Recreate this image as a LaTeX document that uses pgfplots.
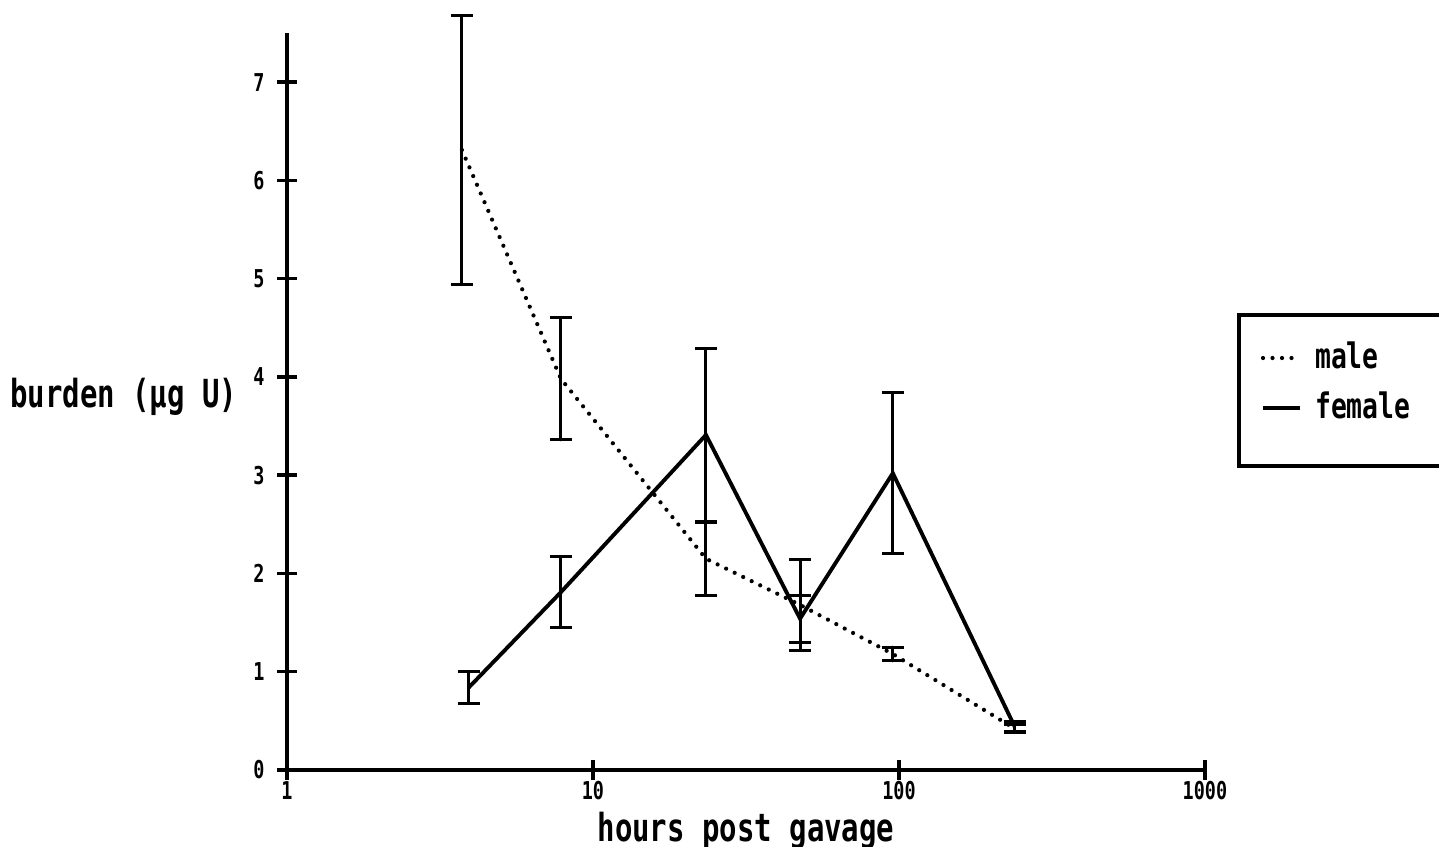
\documentclass[border=0pt]{standalone}
\usepackage{fontspec}
\setmainfont[FakeStretch=0.75]{DejaVu Sans Mono}
\usepackage{pgfplots}
\pgfplotsset{compat=1.18}
\begin{document}
\begin{tikzpicture}
\useasboundingbox (-28.7mm,-7.7mm) rectangle (115.2mm,77mm);
\begin{axis}[
  at={(0,0)}, anchor=south west,
  scale only axis, width=91.8mm, height=73.7mm,
  xmode=log, xmin=1, xmax=1000, ymin=0, ymax=7.5,
  axis lines=left, axis line style={-, line width=1.3pt},
  xtick={1,10,100,1000}, xticklabels={1,10,100,1000},
  ytick={0,1,2,3,4,5,6,7},
  xminorticks=false,
  tick align=center, major tick length=2mm,
  tick style={line width=1pt, black},
  ticklabel style={font=\bfseries\fontsize{7}{8}\selectfont},
  xticklabel style={yshift=1.1mm},
  /pgf/number format/assume math mode=true,
  clip=false,
  xlabel={hours post gavage},
  xlabel style={font=\bfseries\fontsize{11}{13}\selectfont, at={(axis description cs:0.5,0)}, anchor=base, yshift=-7.2mm},
  ylabel={burden\ (µg U)},
  ylabel style={font=\bfseries\fontsize{11}{13}\selectfont, rotate=-90, inner sep=0pt, at={(axis description cs:0,0.506)}, anchor=east, xshift=-4.9mm},
  legend style={at={(axis description cs:1.0349,0.620)}, anchor=north west,
    draw=black, line width=1.1pt, inner xsep=2.2mm, inner ysep=2mm, row sep=0.4mm,
    font=\bfseries\fontsize{10}{12}\selectfont},
  legend cell align=left,
  legend image code/.code={\draw[#1] (0mm,0mm) -- (3.7mm,0mm);},
]
\addplot[black, line width=1.2pt, line cap=round, dash pattern=on 0pt off 2.7pt,
  error bars/.cd, y dir=both, y explicit,
  error bar style={line width=0.85pt, solid},
  error mark=|, error mark options={line width=0.85pt, mark size=1.1mm, solid}]
  coordinates {
  (3.73,6.31) +- (0,1.37)
  (7.86,3.98) +- (0,0.62)
  (23.4,2.15) +- (0,0.37)
  (47.5,1.68) +- (0,0.46)
  (95.5,1.18) +- (0,0.07)
  (239,0.42) +- (0,0.04)
  };
\addlegendentry{\hspace{0.6mm}male}
\addplot[black, line width=1.1pt, solid,
  error bars/.cd, y dir=both, y explicit,
  error bar style={line width=0.85pt, solid},
  error mark=|, error mark options={line width=0.85pt, mark size=1.1mm, solid}]
  coordinates {
  (3.93,0.84) +- (0,0.16)
  (7.86,1.81) +- (0,0.36)
  (23.4,3.41) +- (0,0.88)
  (47.5,1.54) +- (0,0.24)
  (95.5,3.02) +- (0,0.82)
  (239,0.44) +- (0,0.05)
  };
\addlegendentry{\hspace{0.6mm}\makebox[16mm][l]{female}}
\addlegendimage{empty legend}
\addlegendentry[inner sep=0pt, minimum height=1.1mm]{}
\end{axis}
\end{tikzpicture}
\end{document}
